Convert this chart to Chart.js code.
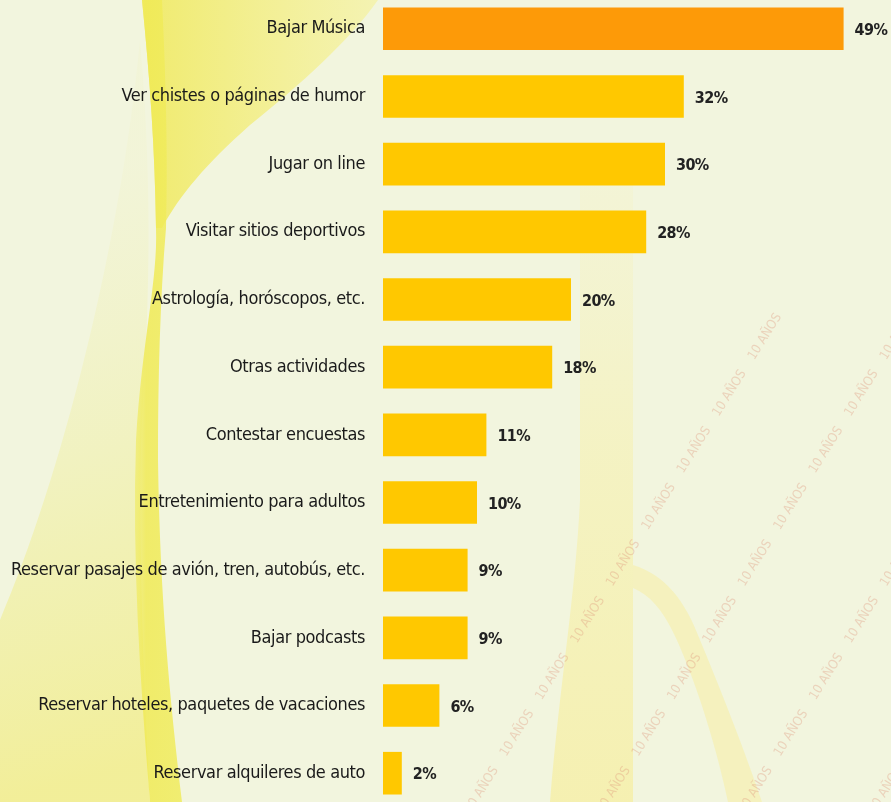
<!DOCTYPE html>
<html lang="es">
<head>
<meta charset="utf-8">
<title>Actividades en Internet</title>
<script src="https://cdn.jsdelivr.net/npm/chart.js@4.4.1/dist/chart.umd.min.js"></script>
<style>
  html, body { margin: 0; padding: 0; background: #f2f5de; }
  #wrap { position: relative; width: 891px; height: 802px; overflow: hidden; }
  canvas { display: block; }
</style>
</head>
<body>
<div id="wrap"><canvas id="chart" width="891" height="802"></canvas></div>
<script>
// Activities and share of respondents (%)
const categories = [
  'Bajar Música',
  'Ver chistes o páginas de humor',
  'Jugar on line',
  'Visitar sitios deportivos',
  'Astrología, horóscopos, etc.',
  'Otras actividades',
  'Contestar encuestas',
  'Entretenimiento para adultos',
  'Reservar pasajes de avión, tren, autobús, etc.',
  'Bajar podcasts',
  'Reservar hoteles, paquetes de vacaciones',
  'Reservar alquileres de auto'
];
const values = [49, 32, 30, 28, 20, 18, 11, 10, 9, 9, 6, 2];
const valueSuffix = '%';

const ORANGE = '#fd9a08';
const YELLOW = '#ffc800';
const FONT = '"DejaVu Sans Condensed", "Liberation Sans Narrow", "Open Sans", sans-serif';

// Pale decorative swooshes and "10 AÑOS" watermark behind the bars
const backdrop = {
  id: 'backdrop',
  beforeDraw(chart) {
    const ctx = chart.ctx;
    const W = chart.width, H = chart.height;
    ctx.save();
    ctx.fillStyle = '#f2f5de';
    ctx.fillRect(0, 0, W, H);

    // hatched wash between the faint left curve and the ribbon
    let g = ctx.createLinearGradient(0, 200, 150, 760);
    g.addColorStop(0, 'rgba(240, 240, 180, 0.15)');
    g.addColorStop(0.6, 'rgba(240, 238, 150, 0.55)');
    g.addColorStop(1, 'rgba(242, 236, 130, 0.75)');
    ctx.fillStyle = g;
    ctx.beginPath();
    ctx.moveTo(140, 40);
    ctx.bezierCurveTo(120, 250, 60, 480, 0, 620);
    ctx.lineTo(0, 802);
    ctx.lineTo(150, 802);
    ctx.bezierCurveTo(142, 650, 138, 500, 142, 420);
    ctx.bezierCurveTo(148, 320, 154, 200, 140, 40);
    ctx.closePath();
    ctx.fill();

    // hatched fan under the top labels
    g = ctx.createLinearGradient(150, 0, 380, 0);
    g.addColorStop(0, 'rgba(240, 234, 100, 0.9)');
    g.addColorStop(0.5, 'rgba(243, 238, 130, 0.8)');
    g.addColorStop(1, 'rgba(245, 242, 160, 0.7)');
    ctx.fillStyle = g;
    ctx.beginPath();
    ctx.moveTo(142, 0);
    ctx.lineTo(378, 0);
    ctx.bezierCurveTo(350, 40, 300, 85, 250, 125);
    ctx.bezierCurveTo(205, 165, 180, 195, 162, 228);
    ctx.lineTo(156, 228);
    ctx.bezierCurveTo(155, 150, 150, 80, 142, 0);
    ctx.closePath();
    ctx.fill();

    // bright ribbon running down the left side
    g = ctx.createLinearGradient(120, 0, 185, 0);
    g.addColorStop(0, 'rgba(240, 236, 100, 0.3)');
    g.addColorStop(0.4, 'rgba(240, 234, 85, 0.85)');
    g.addColorStop(1, 'rgba(240, 236, 95, 0.85)');
    ctx.fillStyle = g;
    ctx.beginPath();
    ctx.moveTo(142, 0);
    ctx.lineTo(162, 0);
    ctx.bezierCurveTo(166, 80, 168, 160, 166, 228);
    ctx.bezierCurveTo(160, 300, 158, 380, 158, 460);
    ctx.bezierCurveTo(160, 600, 170, 700, 182, 802);
    ctx.lineTo(150, 802);
    ctx.bezierCurveTo(140, 680, 132, 560, 136, 440);
    ctx.bezierCurveTo(142, 340, 158, 280, 156, 228);
    ctx.bezierCurveTo(155, 150, 150, 80, 142, 0);
    ctx.closePath();
    ctx.fill();

    // pale vertical band that opens into an arch at the bottom centre
    g = ctx.createLinearGradient(0, 150, 0, 802);
    g.addColorStop(0, 'rgba(248, 240, 170, 0.12)');
    g.addColorStop(0.5, 'rgba(248, 238, 150, 0.4)');
    g.addColorStop(1, 'rgba(248, 236, 140, 0.55)');
    ctx.fillStyle = g;
    ctx.beginPath();
    ctx.moveTo(580, 150);
    ctx.lineTo(633, 150);
    ctx.lineTo(633, 802);
    ctx.lineTo(550, 802);
    ctx.bezierCurveTo(560, 680, 575, 600, 580, 500);
    ctx.closePath();
    ctx.fill();

    // right-hand side of the arch
    ctx.fillStyle = 'rgba(248, 238, 150, 0.45)';
    ctx.beginPath();
    ctx.moveTo(633, 565);
    ctx.bezierCurveTo(665, 575, 685, 600, 700, 640);
    ctx.bezierCurveTo(725, 700, 748, 760, 762, 802);
    ctx.lineTo(728, 802);
    ctx.bezierCurveTo(715, 740, 692, 670, 672, 630);
    ctx.bezierCurveTo(662, 610, 650, 595, 633, 588);
    ctx.closePath();
    ctx.fill();

    // watermark lines
    ctx.fillStyle = 'rgba(220, 140, 115, 0.32)';
    ctx.font = '13px ' + FONT;
    ctx.textAlign = 'left';
    ctx.textBaseline = 'middle';
    const strip = '10 AÑOS    10 AÑOS    10 AÑOS    10 AÑOS    10 AÑOS    10 AÑOS    10 AÑOS    10 AÑOS    10 AÑOS';
    [[468, 812], [600, 812], [742, 812], [872, 812]].forEach(([x0, y0]) => {
      ctx.save();
      ctx.translate(x0, y0);
      ctx.rotate(-58 * Math.PI / 180);
      ctx.fillText(strip, 0, 0);
      ctx.restore();
    });
    ctx.restore();

    // slightly tightened tracking for the category labels
    ctx.letterSpacing = '-0.4px';
  }
};

// Percentage label at the end of every bar
const barValues = {
  id: 'barValues',
  afterDatasetsDraw(chart) {
    const ctx = chart.ctx;
    const meta = chart.getDatasetMeta(0);
    ctx.save();
    ctx.letterSpacing = '-0.6px';
    ctx.fillStyle = '#222222';
    ctx.font = 'bold 16px ' + FONT;
    ctx.textAlign = 'left';
    ctx.textBaseline = 'middle';
    meta.data.forEach((bar, i) => {
      ctx.fillText(values[i] + valueSuffix, bar.x + 11, bar.y + 2);
    });
    ctx.restore();
  }
};

new Chart(document.getElementById('chart'), {
  type: 'bar',
  data: {
    labels: categories,
    datasets: [{
      data: values,
      backgroundColor: values.map((v, i) => i === 0 ? ORANGE : YELLOW),
      borderWidth: 0,
      barPercentage: 0.63,
      categoryPercentage: 1,
      clip: false
    }]
  },
  options: {
    indexAxis: 'y',
    responsive: false,
    animation: false,
    events: [],
    layout: { padding: { top: 28.5, bottom: 19.5, left: 0, right: 38 } },
    plugins: { legend: { display: false }, tooltip: { enabled: false } },
    scales: {
      x: {
        display: false,
        min: 0,
        max: 50
      },
      y: {
        offset: false,
        grid: { display: false, drawTicks: false },
        border: { display: false },
        ticks: {
          padding: 18,
          color: '#1a1a1a',
          font: { family: FONT, size: 18 }
        },
        afterFit(scale) { scale.width = 383; }
      }
    }
  },
  plugins: [backdrop, barValues]
});
</script>
</body>
</html>
